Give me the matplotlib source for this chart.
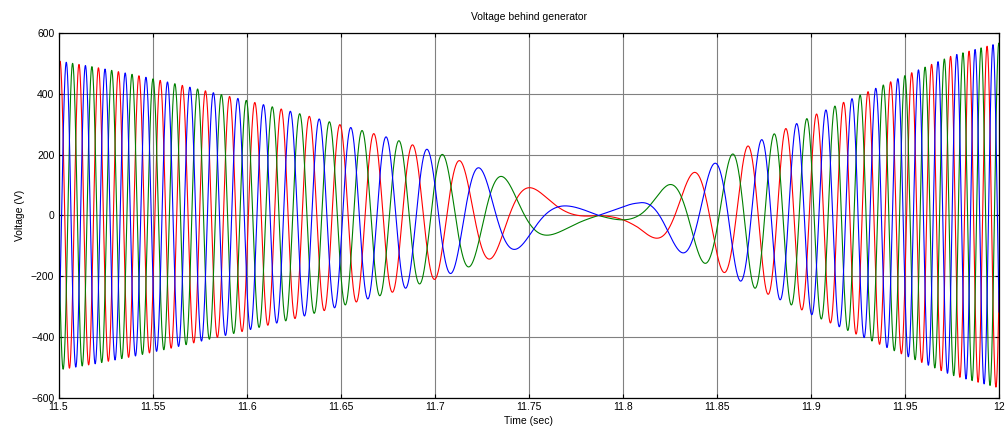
import numpy as np
import matplotlib
matplotlib.use('Agg')
import matplotlib.pyplot as plt

# electrical frequency of the machine voltage (Hz), read from peak spacing
freq_t = [11.50, 11.54, 11.58, 11.62, 11.66, 11.70, 11.73, 11.76, 11.787,
          11.81, 11.83, 11.85, 11.875, 11.895, 11.91, 11.925, 11.94, 11.955,
          11.97, 11.985, 12.0]
freq_hz = [100.5, 91, 79, 69, 55, 40.5, 27, 12.5, 0.5,
           13, 24, 33, 48.5, 61.5, 69.5, 77.5, 85, 93,
           99.5, 103.5, 107]

# peak voltage envelope (V)
amp_t = [11.500, 11.520, 11.540, 11.560, 11.580, 11.600, 11.625, 11.650,
         11.675, 11.700, 11.720, 11.735, 11.750, 11.768, 11.787, 11.808,
         11.824, 11.838, 11.849, 11.858, 11.866, 11.880, 11.892, 11.902,
         11.917, 11.950, 11.975, 12.000]
amp_v = [508, 487, 463, 436, 407, 378, 340, 298,
         257, 210, 165, 130, 95, 50, 0, 46,
         100, 142, 172, 201, 227, 267, 301, 331,
         371, 460, 525, 567]

t_ref = 11.5008  # red phase peak
colors = {'r': (1, 0, 0), 'b': (0, 0, 1), 'g': (0, 0.5, 0)}

t = np.linspace(11.5, 12.0, 40001)
f = np.interp(t, freq_t, freq_hz)
cyc = np.concatenate([[0], np.cumsum(0.5*(f[1:] + f[:-1])*np.diff(t))])
cyc = cyc - np.interp(t_ref, t, cyc)
A = np.interp(t, amp_t, amp_v)

plt.rcParams['font.family'] = ['Liberation Sans', 'DejaVu Sans']
fig = plt.figure(figsize=(10.07, 4.32), dpi=100)
ax = fig.add_axes([0.0581, 0.0787, 0.934, 0.845])

for ph, s in zip(['r', 'g', 'b'], [0.0, 4*np.pi/3, 2*np.pi/3]):
    v = A*np.cos(2*np.pi*cyc - s)
    ax.plot(t, v, color=colors[ph], lw=0.8)

ax.set_xlim(11.5, 12.0)
ax.set_ylim(-600, 600)
ax.set_xticks(np.arange(11.5, 12.001, 0.05))
ax.set_xticklabels(['11.5', '11.55', '11.6', '11.65', '11.7', '11.75',
                    '11.8', '11.85', '11.9', '11.95', '12'])
ax.set_yticks(np.arange(-600, 601, 200))
ax.grid(True, color='#808080', lw=0.8)
ax.tick_params(direction='in', top=True, right=True, labelsize=7.5,
               length=3, width=0.8, pad=3)
for sp in ax.spines.values():
    sp.set_linewidth(0.9)
ax.set_title('Voltage behind generator', fontsize=7.5, pad=9)
ax.set_xlabel('Time (sec)', fontsize=7.5, labelpad=3)
ax.set_ylabel('Voltage (V)', fontsize=7.5, labelpad=4)

plt.savefig('out.png', dpi=100)
